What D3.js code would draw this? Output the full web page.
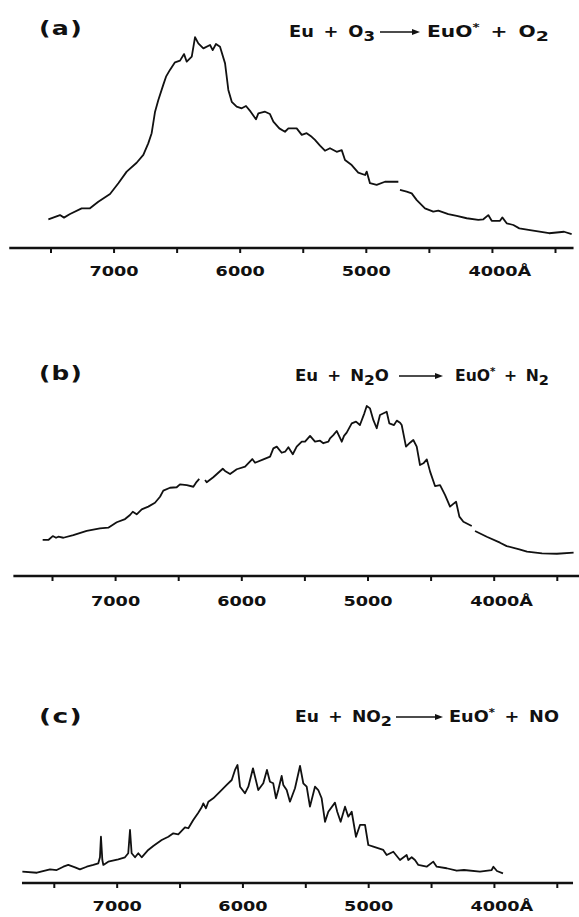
<!DOCTYPE html>
<html>
<head>
<meta charset="utf-8">
<script src="https://cdn.jsdelivr.net/npm/d3@7"></script>
<style>
  body { margin: 0; background: #fff; }
  svg { display: block; }
  text { font-family: "DejaVu Sans", sans-serif; font-weight: bold; fill: #111; }
</style>
</head>
<body>
<svg id="fig" width="579" height="917"></svg>
<script>
// ---- données : [longueur d'onde (Å), intensité relative] ----
// null = levée de plume (trait interrompu)
const spectreA = [
  [7517,13.6],[7425,15.6],[7393,14.4],[7345,16.1],[7253,18.8],[7187,18.8],[7121,21.9],[7028,25.6],
  [6962,30.7],[6896,36.2],[6817,40.4],[6764,44.1],[6725,49.6],[6698,54.4],[6671,64.6],[6645,70.1],
  [6606,77.3],[6584,81.2],[6553,84.4],[6513,88.0],[6473,88.8],[6441,91.9],[6420,88.3],[6380,90.7],
  [6354,99.9],[6328,97.0],[6288,94.6],[6235,96.2],[6214,93.8],[6188,96.7],[6156,95.4],[6116,87.5],
  [6090,74.9],[6063,69.3],[6024,67.0],[5984,66.2],[5950,67.3],[5913,64.6],[5871,61.0],[5852,63.8],
  [5799,64.6],[5760,63.5],[5733,59.9],[5686,56.7],[5641,55.1],[5614,56.7],[5548,56.7],[5508,53.6],
  [5469,54.4],[5429,52.7],[5403,51.2],[5363,48.5],[5324,46.1],[5284,47.3],[5231,45.6],[5191,46.4],
  [5165,41.7],[5112,39.3],[5060,35.7],[5006,34.6],[4993,36.2],[4967,30.7],[4914,29.9],[4848,31.4],
  [4742,31.4],[4735,null],[4729,27.5],[4676,26.7],[4636,25.9],[4596,22.7],[4531,18.8],[4465,17.2],
  [4425,17.7],[4346,16.1],[4279,15.2],[4200,14.1],[4108,13.3],[4068,13.6],[4029,15.6],[4002,12.9],
  [3936,12.9],[3918,14.5],[3883,11.7],[3830,10.9],[3783,9.3],[3698,8.5],[3547,7.0],[3428,7.7],[3368,6.6]
];

const spectreB = [
  [7574,21.2],[7529,21.2],[7494,23.5],[7468,22.5],[7450,23.1],[7410,22.5],[7331,24.1],[7225,26.5],
  [7120,28.0],[7054,28.4],[6987,31.6],[6921,33.5],[6882,35.9],[6860,37.8],[6829,36.3],[6789,39.2],
  [6737,40.8],[6684,43.1],[6644,46.6],[6618,50.2],[6565,51.9],[6512,52.2],[6486,53.9],[6432,53.4],
  [6380,52.5],[6359,54.9],[6333,57.1],[6310,null],[6287,56.5],[6274,55.1],[6222,58.1],[6147,63.1],
  [6129,61.8],[6089,60.0],[6036,62.8],[5970,64.3],[5913,68.8],[5891,66.6],[5825,68.6],[5772,70.2],
  [5746,75.1],[5719,76.1],[5680,72.5],[5653,73.1],[5627,75.7],[5592,71.6],[5561,76.1],[5521,79.0],
  [5495,79.0],[5455,82.4],[5416,79.0],[5376,79.6],[5350,78.1],[5310,79.0],[5297,81.0],[5271,82.9],
  [5244,85.3],[5204,79.0],[5186,82.4],[5165,84.3],[5125,89.8],[5091,90.8],[5060,88.8],[5025,95.7],
  [5006,100],[4980,98.6],[4954,91.8],[4927,86.9],[4901,94.7],[4848,96.6],[4827,89.8],[4790,88.8],
  [4768,91.4],[4742,90.2],[4729,88.8],[4695,76.1],[4663,78.4],[4637,80.0],[4610,76.1],[4584,65.3],
  [4557,66.3],[4530,68.6],[4504,61.4],[4465,52.9],[4425,53.5],[4385,47.6],[4346,40.8],[4320,42.4],
  [4298,43.7],[4272,34.9],[4240,31.9],[4174,29.4],[4160,null],[4148,26.5],[4055,23.1],[3950,19.6],
  [3897,17.6],[3797,15.7],[3736,14.3],[3617,13.3],[3499,13.1],[3367,13.7]
];

const spectreC = [
  [7750,9.6],[7634,8.7],[7530,11.6],[7477,11.0],[7424,13.8],[7385,15.3],[7331,13.3],[7292,11.6],
  [7238,13.8],[7186,15.3],[7146,16.7],[7133,21.8],[7125,39.2],[7114,19.5],[7106,15.3],[7067,18.1],
  [6987,20.1],[6934,21.8],[6908,25.2],[6894,44.9],[6881,25.2],[6854,21.8],[6828,25.2],[6801,21.8],
  [6749,28.0],[6709,31.4],[6642,36.4],[6589,39.2],[6550,42.1],[6510,41.3],[6457,47.2],[6430,46.4],
  [6391,53.4],[6351,59.6],[6324,64.2],[6311,67.5],[6290,63.3],[6271,68.9],[6232,71.8],[6178,77.4],
  [6125,83.1],[6085,87.3],[6059,95.8],[6039,100],[6019,81.6],[5980,76.0],[5953,81.6],[5926,93.0],
  [5916,97.2],[5874,78.8],[5834,84.5],[5805,95.8],[5781,85.8],[5755,84.5],[5733,71.8],[5715,78.8],
  [5688,90.7],[5675,83.1],[5648,78.8],[5622,68.9],[5582,80.3],[5542,99.2],[5516,84.5],[5489,81.6],
  [5463,64.7],[5423,81.6],[5397,78.8],[5370,71.8],[5343,51.9],[5317,60.4],[5264,68.1],[5246,60.4],
  [5219,51.9],[5184,64.7],[5158,56.2],[5131,60.4],[5097,39.2],[5065,49.2],[5025,49.2],[4999,32.2],
  [4959,30.8],[4880,28.0],[4853,23.7],[4800,26.5],[4747,19.5],[4694,23.7],[4681,19.5],[4654,21.8],
  [4628,19.5],[4601,15.3],[4535,13.8],[4482,18.1],[4455,13.8],[4376,12.5],[4296,10.4],[4238,11.0],
  [4111,9.7],[4018,11.0],[4004,13.8],[3976,10.2],[3928,8.2]
];

// graduations de l'axe
const graduations = [7500,7000,6500,6000,5500,5000,4500,4000,3500];
const etiquettes = [7000,6000,5000,4000];
// étendue du trait d'axe (Å)
const axeA = [7827,3353], axeB = [7806,3323], axeC = [7753,3371];

// textes
const titres = ["(a)","(b)","(c)"];
const reactifs = [
  [["Eu + O",0],["3",1]],
  [["Eu + N",0],["2",1],["O",-1]],
  [["Eu + NO",0],["2",1]]
];
const produits = [
  [["EuO",0],["*",2],[" + O",-2],["2",1]],
  [["EuO",0],["*",2],[" + N",-2],["2",1]],
  [["EuO",0],["*",2],[" + NO",-2]]
];

// ---- mise en page ----
const panneaux = [
  {spectre: spectreA, axe: axeA, y0: 248, h: 211, xr: [50.5,555], lab: 28,
   titreY: 35, eqY: 37, gauche: [289,86], fleche: [380,420], droite: [427,122]},
  {spectre: spectreB, axe: axeB, y0: 576, h: 170, xr: [52,556.8], lab: 30,
   titreY: 380, eqY: 381, gauche: [295,94], fleche: [399,443], droite: [455,94]},
  {spectre: spectreC, axe: axeC, y0: 883, h: 118, xr: [53.8,556.8], lab: 28,
   titreY: 723, eqY: 722, gauche: [295,97], fleche: [396,443], droite: [449,110]}
];

const svg = d3.select("#fig");

// texte élargi horizontalement pour atteindre la largeur voulue (lettrage large de l'original)
const elargir = (t, x, y, longueur) => {
  const w = t.node().getBBox().width;
  t.attr("transform", `translate(${x},${y}) scale(${longueur / w},1)`);
};

const ecrire = (g, morceaux, x, y, longueur) => {
  const t = g.append("text")
    .attr("font-size", 15)
    .attr("word-spacing", "3px");
  morceaux.forEach(([s, k]) => {
    const ts = t.append("tspan").text(s);
    if (k == 1) ts.attr("dy", 4).attr("font-size", 14);
    if (k == -1) ts.attr("dy", -4);
    if (k == 2) ts.attr("dy", -6).attr("font-size", 10);
    if (k == -2) ts.attr("dy", 6);
  });
  elargir(t, x, y, longueur);
};

panneaux.forEach((p, i) => {
  const g = svg.append("g");

  const x = d3.scaleLinear().domain([7500, 3500]).range(p.xr);
  const y = d3.scaleLinear().domain([0, 100]).range([p.y0, p.y0 - p.h]);

  // axe
  const axe = d3.axisBottom(x)
    .tickValues(graduations)
    .tickSize(5)
    .tickSizeOuter(0)
    .tickFormat(d => etiquettes.includes(d) ? d : "");

  const ga = g.append("g")
    .attr("transform", `translate(0, ${p.y0})`)
    .call(axe);
  ga.select(".domain").remove();
  ga.selectAll(".tick line").attr("stroke", "#111").attr("stroke-width", 2);
  ga.selectAll(".tick text")
    .attr("font-size", 14.5)
    .attr("font-family", "DejaVu Sans")
    .attr("font-weight", "bold")
    .attr("y", p.lab)
    .attr("dy", 0)
    .attr("transform", "scale(1.22,1)")
    .attr("fill", "#111");
  ga.selectAll(".tick text")
    .filter(d => d == 4000)
    .attr("dx", "0.42em")
    .append("tspan").text("Å");

  g.append("line")
    .attr("x1", x(p.axe[0])).attr("x2", x(p.axe[1]))
    .attr("y1", p.y0).attr("y2", p.y0)
    .attr("stroke", "#111").attr("stroke-width", 2.4);

  // spectre
  const ligne = d3.line()
    .defined(d => d[1] !== null)
    .x(d => x(d[0]))
    .y(d => y(d[1]));

  g.append("path")
    .datum(p.spectre)
    .attr("d", ligne)
    .attr("fill", "none")
    .attr("stroke", "#111")
    .attr("stroke-width", 1.8)
    .attr("stroke-linejoin", "round");

  // titre du panneau
  const tt = g.append("text")
    .attr("font-size", 20)
    .attr("letter-spacing", "1px")
    .text(titres[i]);
  elargir(tt, 39, p.titreY, 44);

  // équation
  ecrire(g, reactifs[i], p.gauche[0], p.eqY, p.gauche[1]);
  ecrire(g, produits[i], p.droite[0], p.eqY, p.droite[1]);

  const fy = p.eqY - 5;
  g.append("line")
    .attr("x1", p.fleche[0]).attr("x2", p.fleche[1] - 6)
    .attr("y1", fy).attr("y2", fy)
    .attr("stroke", "#111").attr("stroke-width", 1.5);
  g.append("path")
    .attr("d", `M${p.fleche[1]},${fy} l-8,-3 l0,6 z`)
    .attr("fill", "#111");
});
</script>
</body>
</html>
